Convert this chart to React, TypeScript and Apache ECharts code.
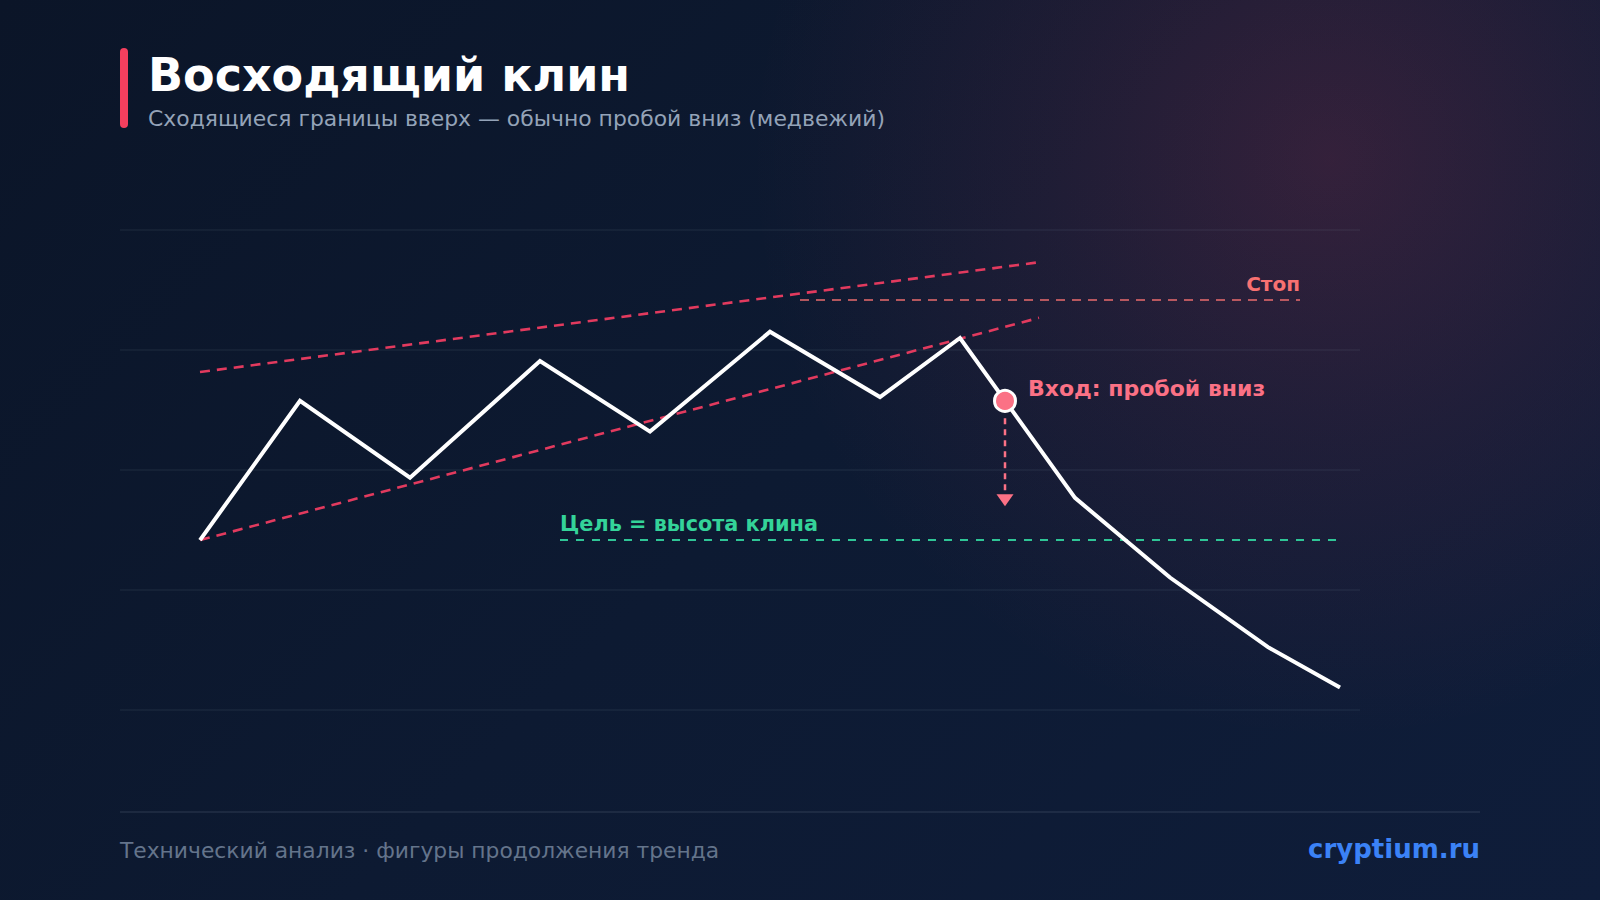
import React, { useEffect, useRef } from "react";
import * as echarts from "echarts";

const priceX = [8, 18, 29, 42, 53, 65, 76, 84, 95.5, 105, 114.8, 122];
const priceY = [35.4, 64.4, 48.4, 72.7, 58, 78.8, 65.2, 77.5, 44.2, 27.6, 13.1, 4.7];

const upperWedge = [[8, 70.4], [91.6, 93.2]];
const lowerWedge = [[8, 35.4], [91.9, 81.7]];
const stopLine = [[68, 85.4], [118, 85.4]];
const targetLine = [[44, 35.4], [121.7, 35.4]];
const entryPoint = [88.5, 64.4];
const arrowLine = [[88.5, 60.8], [88.5, 44]];
const arrowHead = [88.5, 43.7];

const stopLabel = { text: "Стоп", at: [118, 88.75] };
const entryLabel = { text: "Вход: пробой вниз", at: [90.8, 67] };
const targetLabel = { text: "Цель = высота клина", at: [44, 38.75] };

const titleText = "Восходящий клин";
const subtitleText = "Сходящиеся границы вверх — обычно пробой вниз (медвежий)";
const footerLeft = "Технический анализ · фигуры продолжения тренда";
const footerRight = "cryptium.ru";

const yTicks = { min: 0, max: 100, interval: 25 };
const xRange = { min: 0, max: 124 };

const FONT = "DejaVu Sans";

export default function App() {
  const ref = useRef<HTMLDivElement>(null);

  useEffect(() => {
    if (!ref.current) return;
    const chart = echarts.init(ref.current, null, { renderer: "svg", width: 1600, height: 900 });

    const labelSeries = (
      item: { text: string; at: number[] },
      color: string,
      align: string,
      size: number
    ) => ({
      type: "scatter",
      data: [item.at],
      symbolSize: 1,
      itemStyle: { color: "rgba(0,0,0,0)", opacity: 1 },
      silent: true,
      z: 6,
      label: {
        show: true,
        position: "inside",
        formatter: item.text,
        align,
        verticalAlign: "middle",
        color,
        opacity: 1,
        fontFamily: FONT,
        fontSize: size,
        fontWeight: "bold",
      },
    });

    const option: any = {
      animation: false,
      backgroundColor: "transparent",
      grid: { left: 120, top: 230, width: 1240, height: 480, containLabel: false },
      xAxis: {
        type: "value",
        min: xRange.min,
        max: xRange.max,
        show: false,
      },
      yAxis: {
        type: "value",
        min: yTicks.min,
        max: yTicks.max,
        interval: yTicks.interval,
        axisLine: { show: false },
        axisTick: { show: false },
        axisLabel: { show: false },
        splitLine: { show: true, lineStyle: { color: "rgba(148,163,184,0.07)", width: 2 } },
      },
      series: [
        {
          type: "line",
          data: upperWedge,
          symbol: "none",
          silent: true,
          z: 2,
          lineStyle: { color: "#e23a5e", width: 2.6, type: [10, 7] },
        },
        {
          type: "line",
          data: lowerWedge,
          symbol: "none",
          silent: true,
          z: 2,
          lineStyle: { color: "#e23a5e", width: 2.6, type: [10, 7] },
        },
        {
          type: "line",
          data: stopLine,
          symbol: "none",
          silent: true,
          z: 2,
          lineStyle: { color: "rgba(248,113,113,0.7)", width: 2, type: [9, 7] },
        },
        {
          type: "line",
          data: targetLine,
          symbol: "none",
          silent: true,
          z: 2,
          lineStyle: { color: "#2fc596", width: 2, type: [8, 8] },
        },
        {
          type: "line",
          data: priceX.map((x, i) => [x, priceY[i]]),
          symbol: "none",
          silent: true,
          z: 3,
          lineStyle: { color: "#ffffff", width: 4, join: "miter" },
        },
        {
          type: "line",
          data: arrowLine,
          symbol: "none",
          silent: true,
          z: 4,
          lineStyle: { color: "#fb7185", width: 2.5, type: [6, 5] },
        },
        {
          type: "scatter",
          data: [arrowHead],
          symbol: "triangle",
          symbolRotate: 180,
          symbolSize: [17, 12],
          silent: true,
          z: 4,
          itemStyle: { color: "#fb7185", opacity: 1 },
        },
        {
          type: "scatter",
          data: [entryPoint],
          symbol: "circle",
          symbolSize: 21,
          silent: true,
          z: 5,
          itemStyle: { color: "#fb7185", borderColor: "#ffffff", borderWidth: 3, opacity: 1 },
        },
        labelSeries(stopLabel, "#f87171", "right", 20),
        labelSeries(entryLabel, "#fb7185", "left", 22),
        labelSeries(targetLabel, "#34d399", "left", 20.8),
      ],
      graphic: [
        {
          type: "rect",
          shape: { x: 120, y: 48, width: 8, height: 80, r: 4 },
          style: { fill: "#f43f5e" },
        },
        {
          type: "text",
          x: 148,
          y: 75,
          style: {
            text: titleText,
            fill: "#ffffff",
            font: `bold 46px "${FONT}"`,
            verticalAlign: "middle",
            align: "left",
          },
        },
        {
          type: "text",
          x: 148,
          y: 118,
          style: {
            text: subtitleText,
            fill: "#94a3b8",
            font: `21.9px "${FONT}"`,
            verticalAlign: "middle",
            align: "left",
          },
        },
        {
          type: "line",
          shape: { x1: 120, y1: 812, x2: 1480, y2: 812 },
          style: { stroke: "rgba(148,163,184,0.12)", lineWidth: 2 },
        },
        {
          type: "text",
          x: 120,
          y: 850,
          style: {
            text: footerLeft,
            fill: "#64748b",
            font: `21.8px "${FONT}"`,
            verticalAlign: "middle",
            align: "left",
          },
        },
        {
          type: "text",
          x: 1480,
          y: 849,
          style: {
            text: footerRight,
            fill: "#3b82f6",
            font: `bold 26px "${FONT}"`,
            verticalAlign: "middle",
            align: "right",
          },
        },
      ],
    };

    chart.setOption(option);
    return () => {
      chart.dispose();
    };
  }, []);

  return (
    <div
      style={{
        position: "absolute",
        left: 0,
        top: 0,
        width: 1600,
        height: 900,
        background:
          "radial-gradient(circle at 1330px 160px, rgba(244,63,94,0.17) 0px, rgba(244,63,94,0.08) 280px, rgba(244,63,94,0) 580px), linear-gradient(135deg, #0b1528 0%, #0d1a32 50%, #0f1d3a 100%)",
      }}
    >
      <div ref={ref} style={{ width: 1600, height: 900 }} />
    </div>
  );
}
